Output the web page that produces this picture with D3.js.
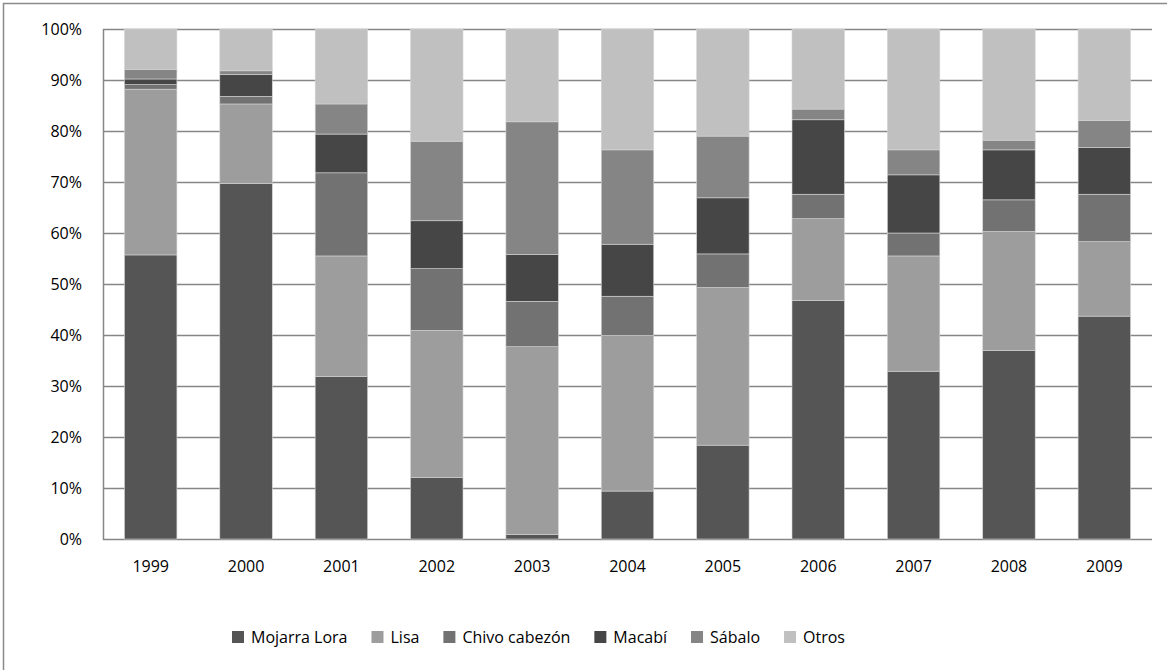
<!DOCTYPE html>
<html>
<head>
<meta charset="utf-8">
<script src="https://cdn.jsdelivr.net/npm/d3@7"></script>
<style>
  html, body { margin: 0; padding: 0; background: #fff; }
  svg { display: block; }
  text { font-family: "Open Sans", sans-serif; }
</style>
</head>
<body>
<svg id="chart" width="1167" height="670"></svg>
<script>
// ---- data (percent shares per year) ----
const years = ["1999","2000","2001","2002","2003","2004","2005","2006","2007","2008","2009"];
const seriesNames = ["Mojarra Lora","Lisa","Chivo cabezón","Macabí","Sábalo","Otros"];
const mojarraLora  = [55.7, 69.7, 31.9, 12.1,  0.9,  9.4, 18.4, 46.8, 32.9, 37.0, 43.7];
const lisa         = [32.5, 15.6, 23.6, 28.8, 36.8, 30.5, 30.9, 16.0, 22.6, 23.3, 14.6];
const chivoCabezon = [ 0.9,  1.5, 16.3, 12.1,  8.9,  7.7,  6.6,  4.8,  4.5,  6.2,  9.3];
const macabi       = [ 1.1,  4.3,  7.6,  9.4,  9.2, 10.2, 11.0, 14.6, 11.4,  9.8,  9.2];
const sabalo       = [ 1.9,  0.7,  5.9, 15.6, 26.0, 18.5, 12.1,  2.1,  4.9,  1.9,  5.3];
const otros        = [ 7.9,  8.2, 14.7, 22.0, 18.2, 23.7, 21.0, 15.7, 23.7, 21.8, 17.9];
const yTicks = [0,0.1,0.2,0.3,0.4,0.5,0.6,0.7,0.8,0.9,1.0];

const seriesValues = [mojarraLora, lisa, chivoCabezon, macabi, sabalo, otros];
const colors = ["#555555","#9d9d9d","#727272","#464646","#858585","#c0c0c0"];

const rows = years.map((y, i) => {
  const r = { year: y };
  seriesNames.forEach((s, k) => r[s] = seriesValues[k][i]);
  return r;
});

const svg = d3.select("#chart");

// outer chart frame
svg.append("rect")
  .attr("x", 3.5).attr("y", 3.5)
  .attr("width", 1180).attr("height", 690)
  .attr("fill", "none").attr("stroke", "#8a8a8a").attr("stroke-width", 1.5);

const plot = { left: 103, right: 1152, top: 29, bottom: 539 };

const x = d3.scaleBand().domain(years).range([plot.left, plot.right]).paddingInner(0.45).paddingOuter(0.225);
const y = d3.scaleLinear().domain([0, 1]).range([plot.bottom, plot.top]);

// gridlines
svg.append("g").selectAll("line").data(yTicks).join("line")
  .attr("x1", plot.left).attr("x2", plot.right)
  .attr("y1", d => Math.round(y(d)) + 0.5).attr("y2", d => Math.round(y(d)) + 0.5)
  .attr("stroke", "#868686").attr("stroke-width", 1.5);

// y axis labels
const yAxis = d3.axisLeft(y).tickValues(yTicks).tickFormat(d3.format(".0%")).tickSize(0).tickPadding(21);
const gy = svg.append("g").attr("transform", `translate(${plot.left},0)`).call(yAxis);
gy.select(".domain").remove();
gy.selectAll("text").attr("font-size", 16).attr("fill", "#000").attr("font-family", "Open Sans");

// stacked bars
const stack = d3.stack().keys(seriesNames).offset(d3.stackOffsetExpand);
const stacked = stack(rows);

svg.append("g").selectAll("g").data(stacked).join("g")
  .attr("fill", (d, i) => colors[i])
  .selectAll("rect").data(d => d).join("rect")
  .attr("x", d => x(d.data.year))
  .attr("width", x.bandwidth())
  .attr("y", d => y(d[1]))
  .attr("height", d => y(d[0]) - y(d[1]))
  .attr("stroke", "#d4d4d4").attr("stroke-width", 0.6);

// left axis line
svg.append("line")
  .attr("x1", plot.left + 0.5).attr("x2", plot.left + 0.5)
  .attr("y1", plot.top).attr("y2", plot.bottom + 1)
  .attr("stroke", "#868686").attr("stroke-width", 1.5);

// x axis labels
const xAxis = d3.axisBottom(x).tickSize(0).tickPadding(22);
const gx = svg.append("g").attr("transform", `translate(0,${plot.bottom})`).call(xAxis);
gx.select(".domain").remove();
gx.selectAll("text").attr("font-size", 16).attr("fill", "#000").attr("font-family", "Open Sans");

// legend
const legend = svg.append("g").attr("transform", "translate(0,637)");
let lx = 232;
seriesNames.forEach((name, i) => {
  const g = legend.append("g").attr("transform", `translate(${lx},0)`);
  g.append("rect").attr("x", 0).attr("y", -6).attr("width", 12).attr("height", 12).attr("fill", colors[i]);
  const t = g.append("text").attr("x", 19).attr("y", 0).attr("dy", "0.35em")
    .attr("font-size", 16).attr("fill", "#000").text(name);
  const w = t.node().getComputedTextLength();
  lx += 19 + w + 24;
});
</script>
</body>
</html>
